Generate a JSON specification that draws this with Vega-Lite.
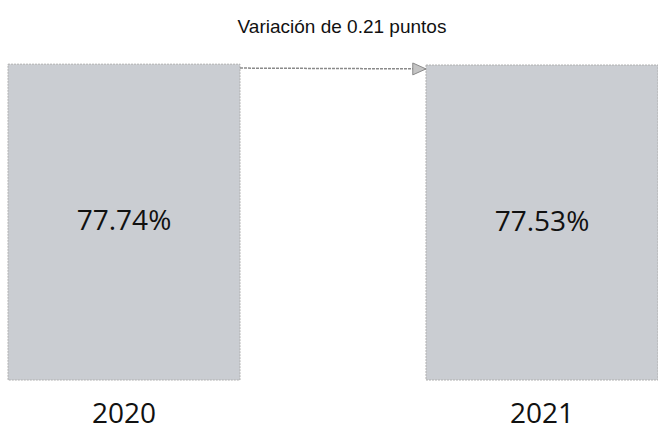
{
  "$schema": "https://vega.github.io/schema/vega-lite/v6.json",
  "width": 650,
  "height": 325,
  "autosize": "none",
  "padding": {"left": 8, "top": 55, "right": 0, "bottom": 52},
  "background": "white",
  "title": {
    "text": "Variación de 0.21 puntos",
    "font": "Liberation Sans",
    "fontSize": 19,
    "fontWeight": "normal",
    "color": "#111111",
    "anchor": "middle",
    "baseline": "alphabetic",
    "offset": 3,
    "dx": 9
  },
  "config": {"view": {"stroke": null}},
  "datasets": {
    "bars": [
      {"year": "2020", "value": 77.74, "label": "77.74%"},
      {"year": "2021", "value": 77.53, "label": "77.53%"}
    ],
    "arrow": [
      {"from": "2020", "to": "2021", "start": 77.74, "end": 77.53}
    ]
  },
  "layer": [
    {
      "data": {"name": "bars"},
      "mark": {"type": "bar", "color": "#cacdd2", "stroke": "#b0b0b0", "strokeWidth": 1, "strokeDash": [2, 1]},
      "encoding": {
        "x": {
          "field": "year",
          "type": "nominal",
          "scale": {"paddingInner": 0.445, "paddingOuter": 0},
          "axis": {
            "title": null,
            "domain": false,
            "ticks": false,
            "labelAngle": 0,
            "labelFont": "Open Sans",
            "labelFontSize": 28,
            "labelColor": "#111111",
            "labelPadding": 20,
            "labelBaseline": "top"
          }
        },
        "y": {"field": "value", "type": "quantitative", "scale": {"domain": [0, 80]}, "axis": null}
      }
    },
    {
      "data": {"name": "bars"},
      "mark": {"type": "text", "font": "Open Sans", "fontSize": 28, "color": "#111111", "baseline": "middle"},
      "encoding": {
        "x": {"field": "year", "type": "nominal"},
        "y": {"field": "value", "type": "quantitative", "scale": {"domain": [0, 160]}, "axis": null},
        "text": {"field": "label"}
      }
    },
    {
      "data": {"name": "arrow"},
      "mark": {"type": "rule", "color": "#8a8a8a", "strokeWidth": 1.5, "strokeDash": [3, 1]},
      "encoding": {
        "x": {"field": "from", "type": "nominal", "bandPosition": 1},
        "x2": {"field": "to", "bandPosition": 0},
        "y": {"field": "start", "type": "quantitative", "scale": {"domain": [0, 81]}, "axis": null},
        "y2": {"field": "end"}
      }
    },
    {
      "data": {"name": "arrow"},
      "mark": {"type": "point", "shape": "M0,0L-1,-0.45L-1,0.45Z", "size": 700, "filled": true, "fill": "#c4c4c4", "stroke": "#8a8a8a", "strokeWidth": 1, "opacity": 1},
      "encoding": {
        "x": {"field": "to", "type": "nominal", "bandPosition": 0},
        "y": {"field": "end", "type": "quantitative", "scale": {"domain": [0, 81]}, "axis": null}
      }
    }
  ],
  "resolve": {"scale": {"y": "independent"}}
}
